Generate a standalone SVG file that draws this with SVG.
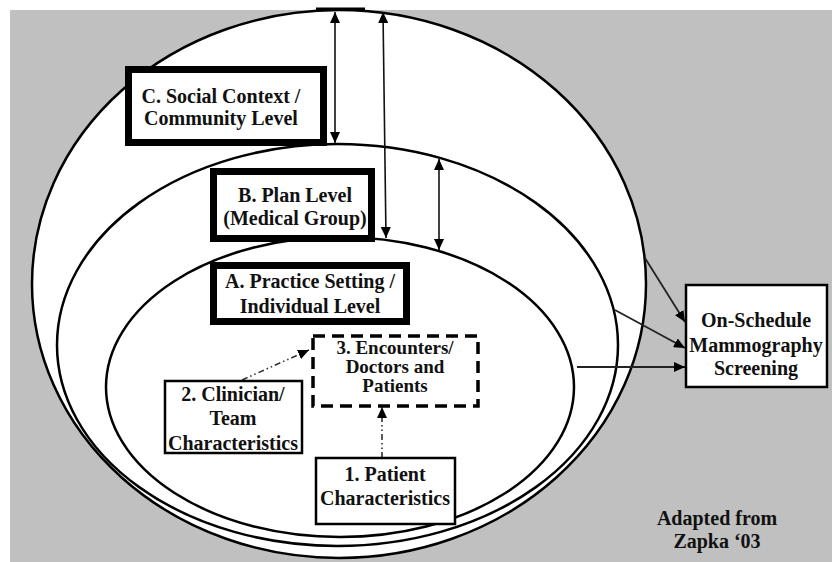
<svg xmlns="http://www.w3.org/2000/svg" width="832" height="562" viewBox="0 0 832 562">
<style>
.lvl{fill:#fff;stroke:#000;stroke-width:2.5}
.thick{fill:#fff;stroke:#000;stroke-width:7}
.thin{fill:#fff;stroke:#000;stroke-width:2.5}
.dash{fill:#fff;stroke:#000;stroke-width:3.5;stroke-dasharray:12 7}
text{font-family:"Liberation Serif","Times New Roman",serif;font-weight:bold;font-size:20px;fill:#111;text-anchor:middle}
.dbl{stroke:#111;stroke-width:1.6;fill:none;marker-start:url(#ah);marker-end:url(#ah)}
.out{stroke:#222;stroke-width:1.8;fill:none;marker-end:url(#ah)}
.dd{stroke:#333;stroke-width:1.6;fill:none;stroke-dasharray:6 3 1.5 3 1.5 3;marker-end:url(#ah)}
</style>
<defs>
<marker id="ah" markerUnits="userSpaceOnUse" markerWidth="12" markerHeight="10" refX="11" refY="5" orient="auto-start-reverse">
<path d="M0,0 L11,5 L0,10 Z" fill="#000"/>
</marker>
</defs>
<rect x="0" y="0" width="832" height="562" fill="#fff"/>
<rect x="10" y="10" width="822" height="552" fill="#c0c0c0"/>
<g id="levelC"><ellipse class="lvl" cx="339" cy="284" rx="307" ry="274"/></g>
<g id="levelB"><ellipse class="lvl" cx="337.5" cy="345" rx="280.5" ry="201"/></g>
<g id="levelA"><ellipse class="lvl" cx="340" cy="387" rx="234" ry="150"/></g>
<line x1="316" y1="9" x2="365" y2="9" stroke="#000" stroke-width="3"/>
<g id="connectors">
<line class="dbl" x1="335" y1="12" x2="335" y2="143"/>
<line class="dbl" x1="383" y1="12" x2="386" y2="238"/>
<line class="dbl" x1="439" y1="159" x2="439" y2="250"/>
<line class="out" x1="645" y1="258" x2="685" y2="322"/>
<line class="out" x1="615" y1="310" x2="685" y2="348"/>
<line class="out" x1="577" y1="367" x2="685" y2="367"/>
<line class="dd" x1="242" y1="380" x2="309" y2="350"/>
<line class="dd" x1="382" y1="458" x2="382" y2="407"/>
</g>
<g id="boxC">
<rect class="thick" x="128.5" y="69.5" width="195" height="73"/>
<text x="221" y="103">C. Social Context /</text>
<text x="221" y="125">Community Level</text>
</g>
<g id="boxB">
<rect class="thick" x="213.5" y="171.5" width="158" height="67"/>
<text x="295" y="202">B. Plan Level</text>
<text x="295" y="225">(Medical Group)</text>
</g>
<g id="boxA">
<rect class="thick" x="213.5" y="265.5" width="193" height="56"/>
<text x="310" y="288">A. Practice Setting /</text>
<text x="310" y="313">Individual Level</text>
</g>
<g id="encounters">
<rect class="dash" x="313" y="336" width="165" height="70"/>
<text x="395" y="354" style="font-size:19px">3. Encounters/</text>
<text x="395" y="373" style="font-size:19px">Doctors and</text>
<text x="395" y="392" style="font-size:19px">Patients</text>
</g>
<g id="clinician">
<rect class="thin" x="165" y="381" width="137" height="72"/>
<text x="233" y="401">2. Clinician/</text>
<text x="233" y="425">Team</text>
<text x="233" y="450">Characteristics</text>
</g>
<g id="patient">
<rect class="thin" x="316" y="458" width="139" height="66"/>
<text x="385" y="481">1. Patient</text>
<text x="385" y="505">Characteristics</text>
</g>
<g id="outcome">
<rect class="thin" x="686" y="285" width="141" height="102" stroke-width="3"/>
<text x="756" y="327">On-Schedule</text>
<text x="756" y="352">Mammography</text>
<text x="756" y="375">Screening</text>
</g>
<g id="credit">
<text x="717" y="525">Adapted from</text>
<text x="717" y="548">Zapka ‘03</text>
</g>
</svg>
